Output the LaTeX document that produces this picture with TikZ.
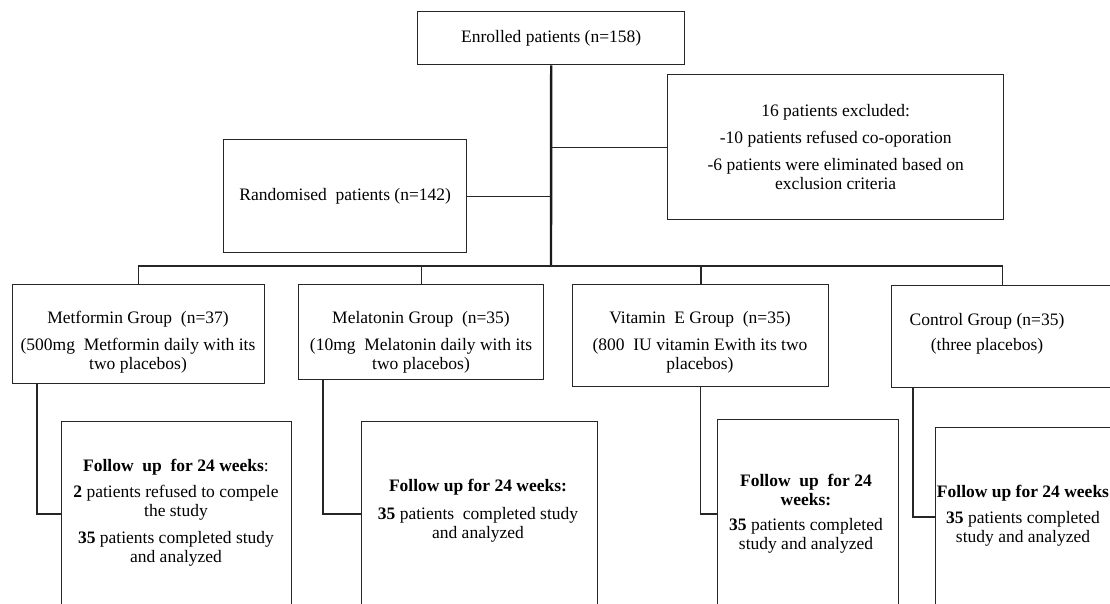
\documentclass[tikz,border=0pt]{standalone}
\usepackage{fontspec}
\setmainfont{Liberation Serif}
\begin{document}
\begin{tikzpicture}[x=1pt,y=-1pt,
  box/.style={draw=black!85, line width=1.4pt, inner sep=0pt, anchor=north west, align=center,
    font=\fontsize{17.5}{19}\selectfont},
  txt/.style={font=\fontsize{17.5}{19}\selectfont, align=center, inner sep=0pt, text=black},
  conn/.style={draw=black!85, line width=1.4pt},
  trunkline/.style={draw=black!90, line width=2.4pt}]
\clip (0,0) rectangle (1110,603);
\fill[white] (0,0) rectangle (1110,603);
% boxes
\node[box, minimum width=267pt, minimum height=53pt] (enr) at (417,11) {Enrolled patients (n=158)};
\node[box, minimum width=336pt, minimum height=145pt] (excl) at (667,74)
  {16 patients excluded:\\[8pt]-10 patients refused co-oporation\\[8pt]-6 patients were eliminated based on\\exclusion criteria};
\node[box, minimum width=243pt, minimum height=113pt] (rand) at (223,139) {Randomised\ \ patients (n=142)};
\node[box, minimum width=252pt, minimum height=99pt] (met) at (12,284) {};
\node[box, minimum width=245pt, minimum height=95pt] (mel) at (298,284) {};
\node[box, minimum width=256pt, minimum height=102pt] (vit) at (572,284) {};
\node[box, minimum width=222pt, minimum height=102pt] (ctl) at (891,285) {};
\node[box, minimum width=230pt, minimum height=250pt] (fu1) at (61,421) {};
\node[box, minimum width=236pt, minimum height=250pt] (fu2) at (361,421) {};
\node[box, minimum width=181pt, minimum height=250pt] (fu3) at (717,419) {};
\node[box, minimum width=186pt, minimum height=250pt] (fu4) at (935,427) {};
% texts
\node[txt] (tmet) at (138,342) {Metformin Group\ \ (n=37)\\[8pt](500mg\ \ Metformin\ daily with its\\two placebos)};
\node[txt] (tmel) at (421,342) {Melatonin Group\ \ (n=35)\\[8pt](10mg\ \ Melatonin daily with its\\two placebos)};
\node[txt] (tvit) at (700,342) {Vitamin\ \ E Group\ \ (n=35)\\[8pt](800\ \ IU vitamin Ewith its two\\placebos)};
\node[txt] (tctl) at (987,334) {Control Group (n=35)\\[6pt](three placebos)};
\node[txt] (tfu1) at (176,513) {\textbf{Follow\ \ up\ \ for 24 weeks}:\\[7pt]\textbf{2} patients refused to compele\\the study\\[8pt]\textbf{35} patients completed study\\and analyzed};
\node[txt] (tfu2) at (478,511) {\textbf{Follow up for 24 weeks:}\\[9pt]\textbf{35} patients\ \ completed study\\and analyzed};
\node[txt] (tfu3) at (806,514) {\textbf{Follow\ \ up\ \ for 24}\\\textbf{weeks:}\\[6pt]\textbf{35} patients completed\\study and analyzed};
\node[txt] (tfu4) at (1023,516) {\textbf{Follow up for 24 weeks}\\[7pt]\textbf{35} patients completed\\study and analyzed};
% connectors
\coordinate (hub) at (551,266);
\draw[trunkline] (enr.south) -- (hub);
\draw[conn] (excl.west) -- (excl.west -| hub);
\draw[conn] (rand.east) -- (rand.east -| hub);
\draw[conn] (met.north) |- (hub) -| (ctl.north);
\draw[conn] (mel.north) -- (mel.north |- hub);
\draw[conn, line width=2pt] (hub) -| (vit.north);
\draw[conn] ([xshift=25pt]met.south west) |- ([yshift=-93pt]fu1.north west);
\draw[conn] ([xshift=25pt]mel.south west) |- ([yshift=-93pt]fu2.north west);
\draw[conn] (vit.south) |- ([yshift=-95pt]fu3.north west);
\draw[conn] ([xshift=22pt]ctl.south west) |- ([yshift=-90pt]fu4.north west);
\end{tikzpicture}
\end{document}
